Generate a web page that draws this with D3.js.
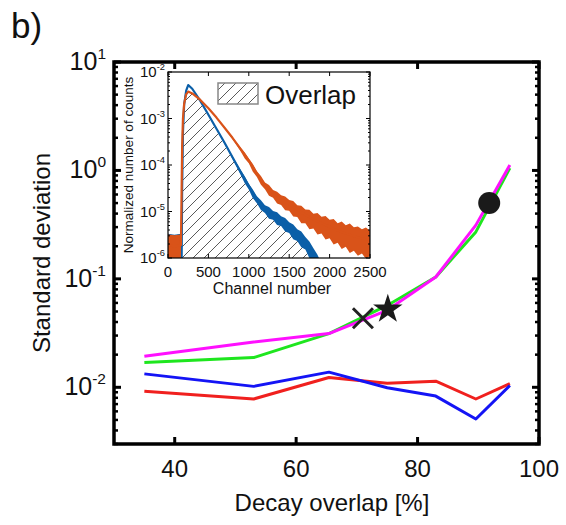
<!DOCTYPE html>
<html lang="en">
<head>
<meta charset="utf-8">
<title></title>
<script src="https://d3js.org/d3.v7.min.js"></script>
<style>
  body { margin: 0; background: #fff; }
  svg { font-family: "Liberation Sans", Arial, sans-serif; }
</style>
</head>
<body>
<div id="frame"></div>
<script>

// main plot: standard deviation vs decay overlap
const overlapPct = [35, 53, 65.4, 75, 83, 89.6, 95.2];
const sdMagenta = [0.0193, 0.0262, 0.0313, 0.0513, 0.104, 0.313, 1.12];
const sdGreen = [0.0169, 0.0188, 0.0313, 0.0569, 0.104, 0.271, 1.05];
const sdBlue = [0.0133, 0.0102, 0.0138, 0.0099, 0.0083, 0.0051, 0.0104];
const sdRed = [0.0092, 0.0078, 0.0123, 0.0109, 0.0114, 0.0078, 0.0108];
const crossPt = [71.0, 0.0433];
const starPt = [75.1, 0.0536];
const circlePt = [91.8, 0.5];
const xTicks = [40, 60, 80, 100];
const yExp = [-2, -1, 0, 1];

// inset: decay histograms (log10 of normalized counts), noise = half width of the band
const chan = [0, 80, 160, 168, 175, 185, 200, 225, 250, 300, 400, 500, 600, 700, 800,
  900, 950, 1000, 1050, 1100, 1150, 1200, 1250, 1300, 1350, 1400, 1450, 1500, 1550, 1600, 1650,
  1700, 1750, 1800, 1850, 1900, 1950, 2000, 2050, 2100, 2150, 2200, 2250, 2300, 2350, 2400, 2450, 2500];
const logOrange = [-5.72, -5.75, -5.72, -4.6, -3.6, -3.0, -2.68, -2.48, -2.42, -2.46, -2.6, -2.78, -2.98, -3.2, -3.42,
  -3.66, -3.78, -3.9, -4.04, -4.18, -4.31, -4.43, -4.52, -4.6, -4.67, -4.73, -4.79, -4.84, -4.9, -4.96, -5.02,
  -5.07, -5.12, -5.17, -5.21, -5.25, -5.29, -5.33, -5.37, -5.41, -5.44, -5.47, -5.5, -5.53, -5.56, -5.58, -5.6, -5.62];
const noiseOrange = [0.28, 0.3, 0.28, 0, 0, 0, 0, 0, 0, 0, 0, 0, 0, 0.01, 0.02,
  0.04, 0.06, 0.05, 0.08, 0.06, 0.09, 0.07, 0.11, 0.08, 0.12, 0.1, 0.14, 0.11, 0.16, 0.12, 0.18,
  0.14, 0.2, 0.15, 0.22, 0.17, 0.24, 0.19, 0.26, 0.2, 0.28, 0.22, 0.3, 0.24, 0.3, 0.25, 0.32, 0.26];
const logBlue = [-5.68, -5.7, -5.68, -6.2, -4.5, -3.3, -2.7, -2.4, -2.28, -2.36, -2.62, -2.92, -3.22, -3.52, -3.84,
  -4.15, -4.3, -4.45, -4.6, -4.73, -4.84, -4.93, -5.0, -5.06, -5.12, -5.18, -5.25, -5.32, -5.4, -5.48, -5.56,
  -5.65, -5.78, -5.9, -6.05, -6.2];
const noiseBlue = [0.25, 0.25, 0.25, 0, 0, 0, 0, 0, 0, 0, 0, 0, 0.01, 0.02, 0.03,
  0.05, 0.07, 0.06, 0.09, 0.07, 0.1, 0.08, 0.12, 0.09, 0.13, 0.1, 0.14, 0.11, 0.15, 0.12, 0.16,
  0.13, 0.17, 0.14, 0.15, 0.1];
const chanTicks = [0, 500, 1000, 1500, 2000, 2500];
const insetExp = [-6, -5, -4, -3, -2];

const W = 566, H = 525;
const svg = d3.select("#frame").append("svg").attr("width", W).attr("height", H);

const defs = svg.append("defs");
const hatch = defs.append("pattern").attr("id", "hatch")
  .attr("patternUnits", "userSpaceOnUse").attr("width", 11).attr("height", 11);
hatch.append("path").attr("d", "M-2,2 L2,-2 M0,11 L11,0 M9,13 L13,9")
  .attr("stroke", "#5a5a5a").attr("stroke-width", 1);

// ---- main axes
const x = d3.scaleLinear([30, 100], [114, 539]);
const y = d3.scaleLog([0.003, 10], [444, 62]);

function powLabel(g, px, py, exp, size, anchor) {
  const t = g.append("text").attr("x", px).attr("y", py)
    .attr("text-anchor", anchor).attr("font-size", size).attr("fill", "#111");
  t.append("tspan").text("10");
  t.append("tspan").attr("font-size", size * 0.62).attr("dy", -size * 0.45).text(exp);
}

const main = svg.append("g");

const line = d3.line().x((d, i) => x(overlapPct[i])).y(d => y(d));
[[sdRed, "#f0201e"], [sdBlue, "#1414f5"], [sdGreen, "#1ee61e"], [sdMagenta, "#ff10ff"]].forEach(([s, c]) => {
  main.append("path").attr("d", line(s)).attr("fill", "none")
    .attr("stroke", c).attr("stroke-width", 3).attr("stroke-linejoin", "round");
});

// markers
main.append("g").attr("transform", `translate(${x(crossPt[0])},${y(crossPt[1])})`)
  .append("path").attr("d", "M-10,-10 L10,10 M-10,10 L10,-10")
  .attr("stroke", "#222").attr("stroke-width", 3);
main.append("path").attr("d", d3.symbol(d3.symbolStar, 270)())
  .attr("transform", `translate(${x(starPt[0])},${y(starPt[1]) + 1})`).attr("fill", "#1a1a1a");
main.append("circle").attr("cx", x(circlePt[0])).attr("cy", y(circlePt[1])).attr("r", 11)
  .attr("fill", "#1a1a1a");

// box + ticks
const yMinor = [];
for (let e = -3; e <= 0; e++) for (let k = 1; k <= 9; k++) {
  const v = k * Math.pow(10, e);
  if (v >= 0.003 && v <= 10 && k !== 1) yMinor.push(v);
}
const tk = main.append("g").attr("stroke", "#000");
yMinor.forEach(v => {
  tk.append("line").attr("x1", 114).attr("x2", 118).attr("y1", y(v)).attr("y2", y(v)).attr("stroke-width", 2.5);
  tk.append("line").attr("x1", 539).attr("x2", 535).attr("y1", y(v)).attr("y2", y(v)).attr("stroke-width", 2.5);
});
yExp.forEach(e => {
  const v = Math.pow(10, e);
  tk.append("line").attr("x1", 114).attr("x2", 121).attr("y1", y(v)).attr("y2", y(v)).attr("stroke-width", 3);
  tk.append("line").attr("x1", 539).attr("x2", 532).attr("y1", y(v)).attr("y2", y(v)).attr("stroke-width", 3);
  powLabel(main, 106, y(v) + 8, String(e), 25, "end");
});
xTicks.forEach(t => {
  tk.append("line").attr("x1", x(t)).attr("x2", x(t)).attr("y1", 444).attr("y2", 437).attr("stroke-width", 3);
  tk.append("line").attr("x1", x(t)).attr("x2", x(t)).attr("y1", 62).attr("y2", 69).attr("stroke-width", 3);
  main.append("text").attr("x", x(t)).attr("y", 477).attr("text-anchor", "middle")
    .attr("font-size", 24).attr("fill", "#111").text(t);
});
main.append("rect").attr("x", 114).attr("y", 62).attr("width", 425).attr("height", 382)
  .attr("fill", "none").attr("stroke", "#000").attr("stroke-width", 3.5);

main.append("text").attr("x", 332).attr("y", 511).attr("text-anchor", "middle")
  .attr("font-size", 24).attr("fill", "#111").text("Decay overlap [%]");
main.append("text").attr("transform", "translate(50,253) rotate(-90)").attr("text-anchor", "middle")
  .attr("font-size", 24).attr("fill", "#111").text("Standard deviation");
svg.append("text").attr("x", 11).attr("y", 38).attr("font-size", 35).attr("fill", "#111").text("b)");

// ---- inset
const ix = d3.scaleLinear([0, 2500], [168, 370]);
const iy = d3.scaleLog([1e-6, 1e-2], [258, 72]);
const ins = svg.append("g");
ins.append("rect").attr("x", 168).attr("y", 72).attr("width", 202).attr("height", 186).attr("fill", "#fff");
defs.append("clipPath").attr("id", "iclip").append("rect")
  .attr("x", 168).attr("y", 72).attr("width", 202).attr("height", 186);
const plot = ins.append("g").attr("clip-path", "url(#iclip)");

// hatched overlap = under the lower of the two curves
const hatchIdx = d3.range(3, logBlue.length);
const hatchArea = d3.area()
  .x(i => ix(chan[i]))
  .y0(iy(1e-6))
  .y1(i => iy(Math.pow(10, Math.min(logBlue[i], logOrange[i]))));
plot.append("path").attr("d", hatchArea(hatchIdx)).attr("fill", "url(#hatch)");

function drawDecay(vals, noise, color) {
  const idx = d3.range(vals.length);
  const band = d3.area().x(i => ix(chan[i]))
    .y0(i => iy(Math.pow(10, vals[i] - 1.3 * noise[i])))
    .y1(i => iy(Math.pow(10, vals[i] + 0.8 * noise[i])));
  plot.append("path").attr("d", band(idx)).attr("fill", color);
  const ln = d3.line().x(i => ix(chan[i])).y(i => iy(Math.pow(10, vals[i])));
  plot.append("path").attr("d", ln(idx)).attr("fill", "none").attr("stroke", color)
    .attr("stroke-width", 2.2).attr("stroke-linejoin", "round");
}
drawDecay(logBlue, noiseBlue, "#0b5fa8");
drawDecay(logOrange, noiseOrange, "#d95319");

// inset ticks
const it = ins.append("g").attr("stroke", "#000").attr("stroke-width", 1);
insetExp.forEach(e => {
  for (let k = 1; k <= 9; k++) {
    const v = k * Math.pow(10, e);
    if (v > 1e-2) break;
    const len = k === 1 ? 4 : 2;
    it.append("line").attr("x1", 168).attr("x2", 168 + len).attr("y1", iy(v)).attr("y2", iy(v));
    it.append("line").attr("x1", 370).attr("x2", 370 - len).attr("y1", iy(v)).attr("y2", iy(v));
  }
  powLabel(ins, 165, iy(Math.pow(10, e)) + 5, String(e), 15, "end");
});
chanTicks.forEach(t => {
  it.append("line").attr("x1", ix(t)).attr("x2", ix(t)).attr("y1", 258).attr("y2", 254);
  it.append("line").attr("x1", ix(t)).attr("x2", ix(t)).attr("y1", 72).attr("y2", 76);
  ins.append("text").attr("x", ix(t)).attr("y", 277).attr("text-anchor", "middle")
    .attr("font-size", 15).attr("fill", "#111").text(t);
});
ins.append("rect").attr("x", 168).attr("y", 72).attr("width", 202).attr("height", 186)
  .attr("fill", "none").attr("stroke", "#000").attr("stroke-width", 1.2);
ins.append("text").attr("x", 272).attr("y", 294).attr("text-anchor", "middle")
  .attr("font-size", 16).attr("fill", "#111").text("Channel number");
ins.append("text").attr("transform", "translate(133,165) rotate(-90)").attr("text-anchor", "middle")
  .attr("font-size", 13.5).attr("fill", "#111").text("Normalized number of counts");

// legend
ins.append("rect").attr("x", 218).attr("y", 83).attr("width", 40).attr("height", 21)
  .attr("fill", "url(#hatch)").attr("stroke", "#888").attr("stroke-width", 1.5);
ins.append("text").attr("x", 265).attr("y", 104).attr("font-size", 26).attr("fill", "#111").text("Overlap");

</script>
</body>
</html>
